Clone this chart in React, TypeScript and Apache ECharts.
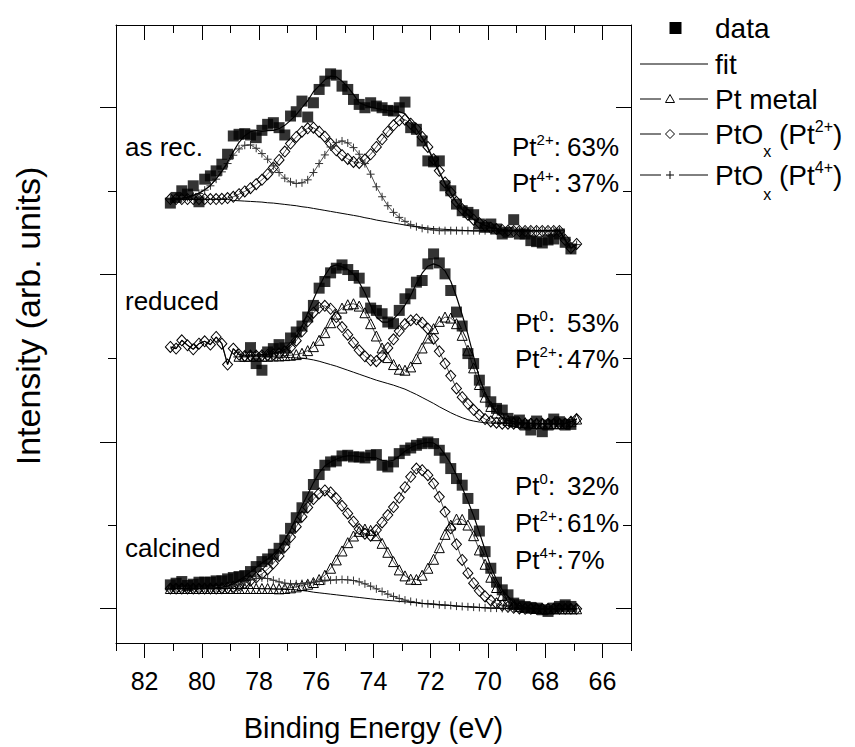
import React, { useEffect, useRef } from 'react';
import * as echarts from 'echarts';

const FONT = '"Liberation Sans", Arial, Helvetica, sans-serif';

// Binding energy grid (eV)
const energy = [
  81.1, 80.9, 80.7, 80.5, 80.3, 80.1, 79.9, 79.7, 79.5, 79.3, 79.1, 78.9, 78.7, 78.5, 78.3, 78.1,
  77.9, 77.7, 77.5, 77.3, 77.1, 76.9, 76.7, 76.5, 76.3, 76.1, 75.9, 75.7, 75.5, 75.3, 75.1, 74.9,
  74.7, 74.5, 74.3, 74.1, 73.9, 73.7, 73.5, 73.3, 73.1, 72.9, 72.7, 72.5, 72.3, 72.1, 71.9, 71.7,
  71.5, 71.3, 71.1, 70.9, 70.7, 70.5, 70.3, 70.1, 69.9, 69.7, 69.5, 69.3, 69.1, 68.9, 68.7, 68.5,
  68.3, 68.1, 67.9, 67.7, 67.5, 67.3, 67.1, 66.9,
];

// vertical stacking offsets of the three spectra (arb. units)
const offsetAsRec = 1161;
const offsetReduced = 586;
const offsetCalcined = 45;

// ---------- as received ----------
const asRecData = [
  163, 180, 200, 190, 215, 167, 235, 245, 260, 280, 310, 365, 370, 372, 368, 360, 382, 400, 405, 390,
  368, 425, 438, 470, 422, 465, 505, 530, 552, 548, 515, 505, 475, 460, 450, 465, 455, 450, 442, 440,
  450, 467, 390, 385, 350, 290, 287, 290, 215, 200, 160, 140, 135, 128, 100, 90, 100, 85, 70, 75,
  113, 70, 70, 50, 47, 43, 52, 55, 70, 45, 25,
];
const asRecFit = [
  176, 177, 178, 181, 186, 193, 203, 216, 236, 259, 286, 318, 346, 366, 378, 381, 379, 381, 382, 387,
  397, 412, 429, 450, 471, 498, 516, 534, 545, 543, 530, 512, 490, 465, 458, 452, 448, 445, 442, 440,
  438, 432, 410, 386, 359, 328, 291, 255, 221, 192, 165, 144, 128, 114, 104, 96, 90, 86, 83, 81,
  80, 80, 80, 80, 80, 80, 80, 80, 80, 52, 28, 38,
];
const asRecBg = [
  174, 174, 174, 174, 174, 174, 174, 174, 174, 174, 174, 171, 170, 169, 168, 167, 166, 164, 163, 161,
  159, 157, 155, 152, 150, 147, 144, 141, 138, 135, 132, 129, 126, 123, 119, 116, 112, 109, 106, 103,
  100, 97, 94, 92, 90, 88, 86, 85, 84, 83, 82, 81, 80, 79, 79, 79, 79, 79, 79, 79,
  79, 79, 79, 79, 79, 79, 79, 79, 79, 52, 28, 38,
];
const asRecPt2 = [
  175, 175, 175, 175, 175, 175, 175, 175, 175, 176, 178, 182, 190, 198, 208, 220, 233, 250, 270, 293,
  318, 342, 362, 378, 388, 390, 378, 363, 342, 322, 307, 296, 287, 284, 294, 310, 332, 355, 378, 397,
  412, 414, 402, 386, 362, 332, 295, 260, 225, 195, 167, 145, 128, 113, 103, 95, 89, 85, 82, 80,
  79, 79, 79, 79, 79, 79, 79, 79, 79, 52, 28, 40,
];
const asRecPt4 = [
  175, 176, 177, 180, 185, 192, 202, 215, 235, 257, 282, 307, 326, 337, 338, 328, 312, 295, 275, 255,
  238, 227, 222, 224, 233, 255, 282, 308, 332, 345, 350, 344, 330, 310, 282, 250, 212, 182, 155, 135,
  120, 108, 98, 92, 87, 84, 82, 80, 80, 80, 80, 80, 80, 80, 80, 80, 80, 80, 80, 80,
  80, 80, 80, 80, 80, 80, 80, 80, 80, 52, 28, 38,
];

// ---------- reduced ----------
const N = null;
const redData = [
  N, N, N, N, N, N, N, N, N, N, N, N, N, N, 303, 255, 235, 290, 300, 312,
  302, 332, 350, 368, 395, 430, 482, 502, 528, 542, 552, 538, 520, 512, 470, 422, 415, 405, 380, 375,
  415, 450, 465, 500, 505, 555, 585, 558, 525, 475, 410, 368, 285, 255, 205, 170, 140, 120, 115, 90,
  80, 85, 70, 55, 82, 50, 70, 88, 80, 70, 72,
];
const redFit = [
  305, 300, 325, 310, 298, 315, 322, 312, 335, 315, 252, 300, 282, 280, 281, 281, 282, 283, 286, 290,
  297, 310, 334, 367, 407, 448, 486, 520, 546, 552, 546, 539, 524, 500, 468, 429, 395, 380, 380, 390,
  407, 431, 460, 496, 527, 548, 555, 549, 534, 503, 456, 402, 343, 276, 213, 165, 131, 108, 93, 84,
  80, 77, 76, 75, 74, 74, 74, 74, 74, 75, 80, 88,
];
const redBg = [
  N, N, N, N, N, N, N, N, N, N, N, 275, 275, 275, 275, 275, 275, 275, 275, 274,
  274, 273, 272, 271, 269, 266, 262, 257, 252, 247, 241, 235, 229, 223, 217, 211, 205, 200, 195, 190,
  184, 178, 170, 162, 153, 144, 135, 125, 116, 107, 99, 92, 86, 82, 79, 77, 76, 75, 74, 74,
  74, 74, 74, 74, 74, 74, 74, 74, 74, 75, 80, 88,
];
const redMetal = [
  N, N, N, N, N, N, N, N, N, N, N, N, 277, 277, 277, 277, 277, 277, 278, 278,
  279, 280, 282, 286, 294, 306, 325, 348, 378, 404, 422, 432, 435, 428, 408, 375, 338, 302, 273, 252,
  238, 235, 245, 270, 302, 332, 360, 382, 395, 392, 375, 340, 295, 242, 192, 154, 126, 106, 92, 84,
  80, 78, 77, 76, 75, 74, 74, 74, 74, 75, 80, 88,
];
const redPt2 = [
  305, 300, 325, 310, 298, 315, 322, 312, 335, 315, 252, 300, 282, 278, 279, 279, 280, 281, 283, 286,
  292, 303, 324, 352, 382, 408, 423, 429, 420, 395, 365, 342, 318, 295, 277, 265, 262, 278, 302, 328,
  353, 374, 385, 388, 378, 360, 330, 292, 255, 218, 180, 154, 134, 116, 100, 88, 81, 77, 74, 74,
  74, 74, 74, 74, 74, 74, 74, 74, 74, 75, 80, 88,
];

// ---------- calcined ----------
const calData = [
  130, 135, 140, 128, 132, 138, 138, 138, 142, 142, 148, 152, 155, 158, 170, 185, 200, 208, 222, 240,
  265, 300, 332, 362, 395, 432, 462, 490, 500, 503, 518, 520, 515, 515, 512, 520, 522, 490, 485, 500,
  525, 535, 542, 550, 555, 560, 555, 535, 512, 480, 450, 430, 390, 342, 292, 230, 180, 138, 115, 100,
  75, 70, 65, 62, 60, 55, 50, 60, 65, 70, 65,
];
const calFit = [
  119, 119, 119, 119, 119, 119, 120, 120, 121, 123, 126, 133, 143, 155, 169, 182, 196, 208, 222, 240,
  266, 296, 332, 368, 402, 437, 467, 488, 500, 508, 515, 518, 518, 516, 514, 513, 512, 505, 502, 505,
  518, 532, 543, 551, 556, 559, 557, 545, 522, 495, 460, 422, 382, 338, 288, 235, 185, 145, 115, 95,
  78, 68, 63, 60, 59, 58, 58, 58, 58, 58, 58, 58,
];
const calBg = [
  119, 119, 119, 119, 119, 119, 119, 119, 119, 119, 119, 119, 119, 119, 119, 119, 118, 118, 117, 117,
  116, 116, 115, 113, 111, 108, 106, 104, 102, 100, 98, 96, 94, 92, 90, 88, 86, 85, 83, 82,
  80, 79, 77, 76, 74, 73, 72, 70, 69, 68, 66, 65, 64, 63, 62, 61, 60, 60, 59, 59,
  58, 58, 58, 58, 58, 58, 58, 58, 58, 58, 58, 58,
];
const calMetal = [
  119, 119, 119, 119, 119, 119, 119, 119, 119, 119, 119, 119, 119, 119, 119, 119, 119, 119, 119, 118,
  119, 121, 124, 128, 132, 137, 146, 159, 180, 205, 232, 257, 277, 291, 298, 294, 278, 255, 228, 200,
  175, 157, 147, 146, 159, 180, 207, 242, 282, 310, 328, 327, 310, 278, 235, 192, 153, 122, 98, 82,
  71, 65, 62, 60, 59, 58, 58, 58, 58, 58, 58, 58,
];
const calPt2 = [
  119, 119, 119, 119, 119, 119, 119, 119, 119, 120, 121, 124, 129, 135, 143, 152, 163, 177, 195, 217,
  244, 274, 305, 335, 363, 388, 405, 414, 408, 390, 368, 345, 320, 298, 284, 278, 295, 318, 340, 364,
  392, 424, 455, 480, 475, 460, 435, 395, 350, 300, 252, 205, 165, 135, 112, 95, 83, 74, 68, 64,
  61, 59, 58, 58, 58, 58, 58, 58, 58, 58, 58, 58,
];
const calPt4 = [
  119, 119, 119, 119, 119, 119, 120, 120, 121, 122, 124, 128, 133, 139, 145, 149, 151, 149, 144, 139,
  135, 133, 133, 134, 136, 138, 140, 142, 144, 145, 146, 145, 143, 139, 133, 126, 118, 110, 102, 95,
  89, 84, 80, 77, 74, 73, 72, 70, 69, 68, 66, 65, 64, 63, 62, 61, 60, 60, 59, 59,
  58, 58, 58, 58, 58, 58, 58, 58, 58, 58, 58, 58,
];

// axis ticks
const xMajorTicks = [66, 68, 70, 72, 74, 76, 78, 80, 82];
const xMinorTicks = [65, 67, 69, 71, 73, 75, 77, 79, 81, 83];
const yMajorTicks = [104.7, 605.1, 1108.8, 1612.5];
const yMinorTicks = [353.4, 855.6, 1359.3];
const yMin = 0;
const yMax = 1860;

const toPts = (vals: (number | null)[], off: number) => {
  const out: number[][] = [];
  vals.forEach((v, i) => {
    if (v !== null && v !== undefined) out.push([energy[i], v + off]);
  });
  return out;
};

const SYM: Record<string, any> = {
  metal: {
    symbol: 'triangle',
    size: 10,
    item: { color: 'rgba(0,0,0,0)', borderColor: '#000', borderWidth: 1 },
  },
  pt2: {
    symbol: 'diamond',
    size: [10, 11],
    item: { color: 'rgba(0,0,0,0)', borderColor: '#000', borderWidth: 1 },
  },
  pt4: {
    symbol: 'path://M0,5L10,5M5,0L5,10',
    size: 8,
    item: { color: 'none', borderColor: '#333', borderWidth: 1 },
  },
};

const comp = (vals: (number | null)[], off: number, kind: string) => ({
  type: 'line',
  data: toPts(vals, off),
  symbol: SYM[kind].symbol,
  symbolSize: SYM[kind].size,
  showSymbol: true,
  showAllSymbol: true,
  itemStyle: SYM[kind].item,
  lineStyle: { color: '#000', width: 0.7 },
  z: 2,
  silent: true,
});

const plainLine = (vals: (number | null)[], off: number, width: number, z: number) => ({
  type: 'line',
  data: toPts(vals, off),
  symbol: 'none',
  showSymbol: false,
  lineStyle: { color: '#000', width },
  z,
  silent: true,
});

const dataPts = (vals: (number | null)[], off: number) => ({
  type: 'scatter',
  data: toPts(vals, off),
  symbol: 'rect',
  symbolSize: 11,
  itemStyle: { color: '#000' },
  z: 5,
  silent: true,
});

let measureCtx: CanvasRenderingContext2D | null = null;
const textWidth = (s: string, size: number) => {
  if (!measureCtx) measureCtx = document.createElement('canvas').getContext('2d');
  if (!measureCtx) return s.length * size * 0.55;
  measureCtx.font = `${size}px ${FONT}`;
  return measureCtx.measureText(s).width;
};

type Part = { t: string; s: number; dy?: number };
const richParts = (x: number, y: number, parts: Part[]) => {
  const out: any[] = [];
  let cx = x;
  parts.forEach((p) => {
    out.push({
      type: 'text',
      x: cx,
      y: y + (p.dy || 0),
      silent: true,
      style: {
        text: p.t,
        fontSize: p.s,
        fontFamily: FONT,
        fill: '#000',
        textAlign: 'left',
        textVerticalAlign: 'middle',
      },
    });
    cx += textWidth(p.t, p.s);
  });
  return out;
};

const ANN = 26;
const SUP = 15;
const ptLabel = (x: number, y: number, sup: string, value: string) => [
  ...richParts(x, y, [
    { t: 'Pt', s: ANN },
    { t: sup, s: SUP, dy: -8 },
    { t: ':', s: ANN },
  ]),
  ...richParts(567, y, [{ t: value, s: ANN }]),
];

const LEG = 28;
const LSUB = 16;
const ROWS = [28, 64, 99, 134, 175];
const buildLegend = () => {
  const els: any[] = [];
  const lineEl = (x1: number, x2: number, y: number) => ({
    type: 'line',
    silent: true,
    shape: { x1, y1: y, x2, y2: y },
    style: { stroke: '#000', lineWidth: 1 },
  });
  const [r1, r2, r3, r4, r5] = ROWS;
  // data
  els.push({
    type: 'rect',
    silent: true,
    shape: { x: 669.5, y: r1 - 6, width: 12, height: 12 },
    style: { fill: '#000' },
  });
  els.push(...richParts(715, r1, [{ t: 'data', s: LEG }]));
  // fit
  els.push(lineEl(640, 708, r2));
  els.push(...richParts(715, r2, [{ t: 'fit', s: LEG }]));
  // Pt metal
  els.push(lineEl(640, 661, r3), lineEl(679, 708, r3));
  els.push({
    type: 'polygon',
    silent: true,
    shape: { points: [[670, r3 - 4.5], [665.5, r3 + 3.5], [674.5, r3 + 3.5]] },
    style: { fill: 'none', stroke: '#000', lineWidth: 1 },
  });
  els.push(...richParts(715, r3, [{ t: 'Pt metal', s: LEG }]));
  // PtOx (Pt2+)
  els.push(lineEl(640, 661, r4), lineEl(679, 708, r4));
  els.push({
    type: 'polygon',
    silent: true,
    shape: { points: [[670, r4 - 4.5], [674.5, r4], [670, r4 + 4.5], [665.5, r4]] },
    style: { fill: 'none', stroke: '#000', lineWidth: 1 },
  });
  els.push(
    ...richParts(715, r4, [
      { t: 'PtO', s: LEG },
      { t: 'x', s: LSUB, dy: 17 },
      { t: ' (Pt', s: LEG },
      { t: '2+', s: LSUB, dy: -8 },
      { t: ')', s: LEG },
    ])
  );
  // PtOx (Pt4+)
  els.push(lineEl(640, 661, r5), lineEl(679, 708, r5));
  els.push(
    {
      type: 'line',
      silent: true,
      shape: { x1: 666, y1: r5, x2: 674, y2: r5 },
      style: { stroke: '#000', lineWidth: 1 },
    },
    {
      type: 'line',
      silent: true,
      shape: { x1: 670, y1: r5 - 4, x2: 670, y2: r5 + 4 },
      style: { stroke: '#000', lineWidth: 1 },
    }
  );
  els.push(
    ...richParts(715, r5, [
      { t: 'PtO', s: LEG },
      { t: 'x', s: LSUB, dy: 19 },
      { t: ' (Pt', s: LEG },
      { t: '4+', s: LSUB, dy: -8 },
      { t: ')', s: LEG },
    ])
  );
  return els;
};

const buildAnnotations = () => [
  ...richParts(125, 147, [{ t: 'as rec.', s: ANN }]),
  ...ptLabel(512, 147, '2+', '63%'),
  ...ptLabel(512, 183, '4+', '37%'),
  ...richParts(125, 301, [{ t: 'reduced', s: ANN }]),
  ...ptLabel(515, 323, '0', '53%'),
  ...ptLabel(515, 359, '2+', '47%'),
  ...richParts(125, 548, [{ t: 'calcined', s: ANN }]),
  ...ptLabel(515, 486, '0', '32%'),
  ...ptLabel(515, 523, '2+', '61%'),
  ...ptLabel(515, 560, '4+', '7%'),
  {
    type: 'text',
    x: 28,
    y: 316,
    rotation: Math.PI / 2,
    silent: true,
    style: {
      text: 'Intensity (arb. units)',
      fontSize: 34,
      fontFamily: FONT,
      fill: '#000',
      textAlign: 'center',
      textVerticalAlign: 'middle',
    },
  },
];

const tickStyle = { color: '#000', width: 1 };

const xBase = {
  type: 'value',
  min: 65,
  max: 83,
  inverse: true,
  splitLine: { show: false },
  axisLabel: { show: false },
};
const yBase = {
  type: 'value',
  min: yMin,
  max: yMax,
  splitLine: { show: false },
  axisLabel: { show: false },
};

const App: React.FC = () => {
  const ref = useRef<HTMLDivElement>(null);
  useEffect(() => {
    if (!ref.current) return;
    const chart = echarts.init(ref.current, null, { renderer: 'svg' });
    const option: any = {
      animation: false,
      backgroundColor: '#fff',
      grid: { left: 116, right: 224, top: 25, bottom: 102, containLabel: false },
      xAxis: [
        {
          ...xBase,
          position: 'bottom',
          axisLine: { show: true, onZero: false, lineStyle: tickStyle },
          axisTick: { show: true, inside: false, length: 15, customValues: xMajorTicks, lineStyle: tickStyle },
          axisLabel: {
            show: true,
            customValues: xMajorTicks,
            fontSize: 25,
            fontFamily: FONT,
            color: '#000',
            margin: 25,
          },
          name: 'Binding Energy (eV)',
          nameLocation: 'middle',
          nameGap: 70,
          nameTextStyle: { fontSize: 29, fontFamily: FONT, color: '#000' },
        },
        {
          ...xBase,
          position: 'bottom',
          axisLine: { show: false, onZero: false },
          axisTick: { show: true, inside: false, length: 8, customValues: xMinorTicks, lineStyle: tickStyle },
        },
        {
          ...xBase,
          position: 'top',
          axisLine: { show: true, onZero: false, lineStyle: tickStyle },
          axisTick: { show: true, inside: true, length: 15, customValues: xMajorTicks, lineStyle: tickStyle },
        },
        {
          ...xBase,
          position: 'top',
          axisLine: { show: false, onZero: false },
          axisTick: { show: true, inside: true, length: 8, customValues: xMinorTicks, lineStyle: tickStyle },
        },
      ],
      yAxis: [
        {
          ...yBase,
          position: 'left',
          axisLine: { show: true, onZero: false, lineStyle: tickStyle },
          axisTick: { show: true, inside: false, length: 16, customValues: yMajorTicks, lineStyle: tickStyle },
        },
        {
          ...yBase,
          position: 'left',
          axisLine: { show: false, onZero: false },
          axisTick: { show: true, inside: false, length: 8, customValues: yMinorTicks, lineStyle: tickStyle },
        },
        {
          ...yBase,
          position: 'right',
          axisLine: { show: true, onZero: false, lineStyle: tickStyle },
          axisTick: { show: true, inside: true, length: 15, customValues: yMajorTicks, lineStyle: tickStyle },
        },
        {
          ...yBase,
          position: 'right',
          axisLine: { show: false, onZero: false },
          axisTick: { show: true, inside: true, length: 8, customValues: yMinorTicks, lineStyle: tickStyle },
        },
      ],
      series: [
        // as received
        comp(asRecPt2, offsetAsRec, 'pt2'),
        comp(asRecPt4, offsetAsRec, 'pt4'),
        plainLine(asRecBg, offsetAsRec, 1, 3),
        plainLine(asRecFit, offsetAsRec, 1.2, 4),
        dataPts(asRecData, offsetAsRec),
        // reduced
        comp(redMetal, offsetReduced, 'metal'),
        comp(redPt2, offsetReduced, 'pt2'),
        plainLine(redBg, offsetReduced, 1, 3),
        plainLine(redFit, offsetReduced, 1.2, 4),
        dataPts(redData, offsetReduced),
        // calcined
        comp(calMetal, offsetCalcined, 'metal'),
        comp(calPt2, offsetCalcined, 'pt2'),
        comp(calPt4, offsetCalcined, 'pt4'),
        plainLine(calBg, offsetCalcined, 1, 3),
        plainLine(calFit, offsetCalcined, 1.2, 4),
        dataPts(calData, offsetCalcined),
      ],
      graphic: { elements: [...buildLegend(), ...buildAnnotations()] },
    };
    chart.setOption(option);
    return () => {
      chart.dispose();
    };
  }, []);
  return (
    <div
      ref={ref}
      style={{ position: 'fixed', left: 0, top: 0, width: 855, height: 747, background: '#fff' }}
    />
  );
};

export default App;
